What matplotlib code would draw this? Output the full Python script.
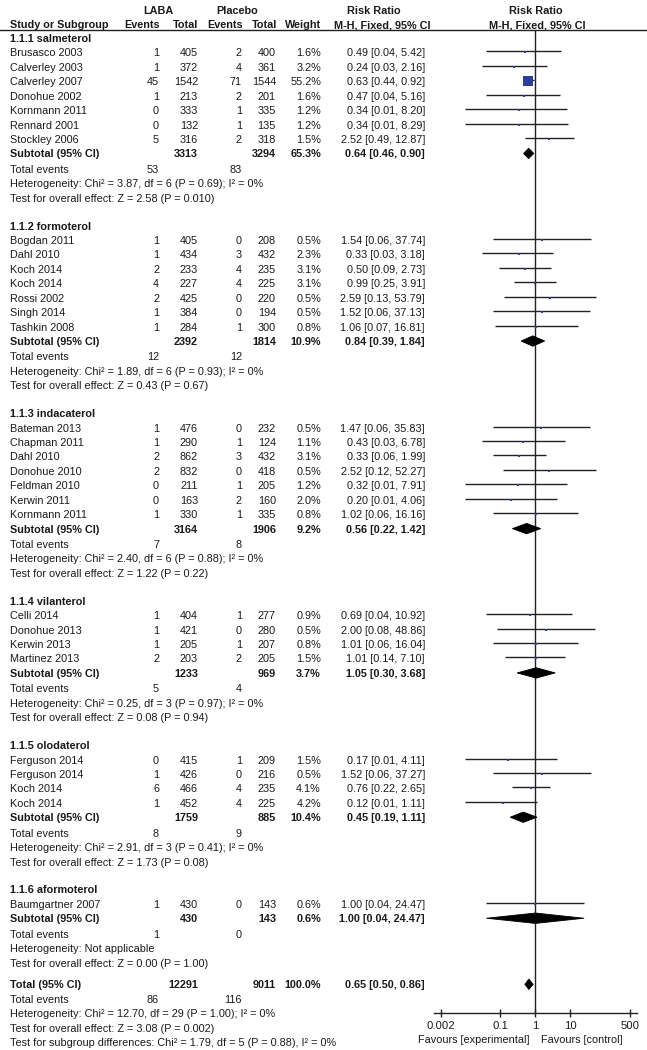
import matplotlib
matplotlib.use("Agg")
import matplotlib.pyplot as plt
from matplotlib.patches import Polygon
import numpy as np

plt.rcParams['font.family'] = ['Liberation Sans', 'DejaVu Sans']

# ---------------- data ----------------
group_names = ["1.1.1 salmeterol", "1.1.2 formoterol", "1.1.3 indacaterol",
               "1.1.4 vilanterol", "1.1.5 olodaterol", "1.1.6 aformoterol"]
group_sizes = [7, 7, 7, 4, 4, 1]

studies = ["Brusasco 2003", "Calverley 2003", "Calverley 2007", "Donohue 2002",
           "Kornmann 2011", "Rennard 2001", "Stockley 2006",
           "Bogdan 2011", "Dahl 2010", "Koch 2014", "Koch 2014", "Rossi 2002",
           "Singh 2014", "Tashkin 2008",
           "Bateman 2013", "Chapman 2011", "Dahl 2010", "Donohue 2010",
           "Feldman 2010", "Kerwin 2011", "Kornmann 2011",
           "Celli 2014", "Donohue 2013", "Kerwin 2013", "Martinez 2013",
           "Ferguson 2014", "Ferguson 2014", "Koch 2014", "Koch 2014",
           "Baumgartner 2007"]
laba_events = [1, 1, 45, 1, 0, 0, 5,
               1, 1, 2, 4, 2, 1, 1,
               1, 1, 2, 2, 0, 0, 1,
               1, 1, 1, 2,
               0, 1, 6, 1,
               1]
laba_total = [405, 372, 1542, 213, 333, 132, 316,
              405, 434, 233, 227, 425, 384, 284,
              476, 290, 862, 832, 211, 163, 330,
              404, 421, 205, 203,
              415, 426, 466, 452,
              430]
pbo_events = [2, 4, 71, 2, 1, 1, 2,
              0, 3, 4, 4, 0, 0, 1,
              0, 1, 3, 0, 1, 2, 1,
              1, 0, 1, 2,
              1, 0, 4, 4,
              0]
pbo_total = [400, 361, 1544, 201, 335, 135, 318,
             208, 432, 235, 225, 220, 194, 300,
             232, 124, 432, 418, 205, 160, 335,
             277, 280, 207, 205,
             209, 216, 235, 225,
             143]
weights = [1.6, 3.2, 55.2, 1.6, 1.2, 1.2, 1.5,
           0.5, 2.3, 3.1, 3.1, 0.5, 0.5, 0.8,
           0.5, 1.1, 3.1, 0.5, 1.2, 2.0, 0.8,
           0.9, 0.5, 0.8, 1.5,
           1.5, 0.5, 4.1, 4.2,
           0.6]
rr = [0.49, 0.24, 0.63, 0.47, 0.34, 0.34, 2.52,
      1.54, 0.33, 0.50, 0.99, 2.59, 1.52, 1.06,
      1.47, 0.43, 0.33, 2.52, 0.32, 0.20, 1.02,
      0.69, 2.00, 1.01, 1.01,
      0.17, 1.52, 0.76, 0.12,
      1.00]
rr_lo = [0.04, 0.03, 0.44, 0.04, 0.01, 0.01, 0.49,
         0.06, 0.03, 0.09, 0.25, 0.13, 0.06, 0.07,
         0.06, 0.03, 0.06, 0.12, 0.01, 0.01, 0.06,
         0.04, 0.08, 0.06, 0.14,
         0.01, 0.06, 0.22, 0.01,
         0.04]
rr_hi = [5.42, 2.16, 0.92, 5.16, 8.20, 8.29, 12.87,
         37.74, 3.18, 2.73, 3.91, 53.79, 37.13, 16.81,
         35.83, 6.78, 1.99, 52.27, 7.91, 4.06, 16.16,
         10.92, 48.86, 16.04, 7.10,
         4.11, 37.27, 2.65, 1.11,
         24.47]

sub_laba_total = [3313, 2392, 3164, 1233, 1759, 430]
sub_pbo_total = [3294, 1814, 1906, 969, 885, 143]
sub_weight = [65.3, 10.9, 9.2, 3.7, 10.4, 0.6]
sub_rr = [0.64, 0.84, 0.56, 1.05, 0.45, 1.00]
sub_lo = [0.46, 0.39, 0.22, 0.30, 0.19, 0.04]
sub_hi = [0.90, 1.84, 1.42, 3.68, 1.11, 24.47]
sub_ev_laba = [53, 12, 7, 5, 8, 1]
sub_ev_pbo = [83, 12, 8, 4, 9, 0]
sub_het = ["Heterogeneity: Chi² = 3.87, df = 6 (P = 0.69); I² = 0%",
           "Heterogeneity: Chi² = 1.89, df = 6 (P = 0.93); I² = 0%",
           "Heterogeneity: Chi² = 2.40, df = 6 (P = 0.88); I² = 0%",
           "Heterogeneity: Chi² = 0.25, df = 3 (P = 0.97); I² = 0%",
           "Heterogeneity: Chi² = 2.91, df = 3 (P = 0.41); I² = 0%",
           "Heterogeneity: Not applicable"]
sub_test = ["Test for overall effect: Z = 2.58 (P = 0.010)",
            "Test for overall effect: Z = 0.43 (P = 0.67)",
            "Test for overall effect: Z = 1.22 (P = 0.22)",
            "Test for overall effect: Z = 0.08 (P = 0.94)",
            "Test for overall effect: Z = 1.73 (P = 0.08)",
            "Test for overall effect: Z = 0.00 (P = 1.00)"]

total_laba_total = 12291
total_pbo_total = 9011
total_weight = 100.0
total_rr, total_lo, total_hi = 0.65, 0.50, 0.86
total_ev_laba, total_ev_pbo = 86, 116
total_lines = ["Heterogeneity: Chi² = 12.70, df = 29 (P = 1.00); I² = 0%",
               "Test for overall effect: Z = 3.08 (P = 0.002)",
               "Test for subgroup differences: Chi² = 1.79, df = 5 (P = 0.88), I² = 0%"]

tick_vals = [0.002, 0.1, 1, 10, 500]
tick_labels = ["0.002", "0.1", "1", "10", "500"]

# ---------------- layout ----------------
W, H = 647, 1050
fig = plt.figure(figsize=(W / 100, H / 100), dpi=100)
fig.patch.set_facecolor("white")
at = fig.add_axes([0, 0, 1, 1])
at.set_xlim(0, W)
at.set_ylim(H, 0)
at.axis("off")

FS = 7.8
TXT = "#1a1a1a"
Y0, STEP = 38.0, 14.43

X_NAME = 10
X_LE, X_LT, X_PE, X_PT, X_W, X_RR = 159, 198, 242, 276, 321, 425

ax_left, ax_right, ax_bot, ax_top = 434, 637, 1013, 30
fa = fig.add_axes([ax_left / W, 1 - ax_bot / H, (ax_right - ax_left) / W,
                   (ax_bot - ax_top) / H])
fa.set_xscale("log")
fa.set_xlim(0.00128, 790)
fa.set_ylim(ax_bot, ax_top)
fa.patch.set_alpha(0)
for s in ["top", "left", "right"]:
    fa.spines[s].set_visible(False)
fa.spines["bottom"].set_linewidth(1.0)
fa.spines["bottom"].set_color("#222222")
fa.set_yticks([])
fa.set_xticks(tick_vals)
fa.set_xticklabels(tick_labels)
fa.xaxis.set_minor_locator(matplotlib.ticker.NullLocator())
fa.tick_params(axis="x", direction="inout", length=6, width=1.0,
               labelsize=FS + 0.3, pad=2.5, colors="#222222", labelcolor=TXT)
fa.axvline(1, color="#222222", lw=1.0, zorder=1)


def txt(x, y, s, ha="left", bold=False, size=FS):
    at.text(x, y, s, ha=ha, va="center_baseline", fontsize=size,
            fontweight="bold" if bold else "normal", color=TXT)


# headers
txt(158, 10, "LABA", ha="center", bold=True)
txt(237, 10, "Placebo", ha="center", bold=True)
txt(374, 10, "Risk Ratio", ha="center", bold=True)
txt(536, 10, "Risk Ratio", ha="center", bold=True)
hy = 24
txt(X_NAME, hy, "Study or Subgroup", bold=True)
txt(X_LE + 1, hy, "Events", ha="right", bold=True)
txt(X_LT, hy, "Total", ha="right", bold=True)
txt(X_PE + 1, hy, "Events", ha="right", bold=True)
txt(X_PT + 1, hy, "Total", ha="right", bold=True)
txt(X_W, hy, "Weight", ha="right", bold=True)
txt(382, hy, "M-H, Fixed, 95% CI", ha="center", bold=True)
txt(537, hy, "M-H, Fixed, 95% CI", ha="center", bold=True)
at.plot([0, W], [30, 30], color="#222222", lw=1.0)

SQ_COL = "#2E3D9A"


def diamond(y, c, lo, hi, h=5.2):
    fa.add_patch(Polygon([(lo, y), (c, y - h), (hi, y), (c, y + h)],
                         closed=True, facecolor="black", edgecolor="black",
                         lw=0.6, zorder=4))


k = 0.0
si = 0
for g, name in enumerate(group_names):
    txt(X_NAME, Y0 + STEP * k, name, bold=True)
    k += 1
    for _ in range(group_sizes[g]):
        y = Y0 + STEP * k
        txt(X_NAME, y, studies[si])
        txt(X_LE, y, str(laba_events[si]), ha="right")
        txt(X_LT, y, str(laba_total[si]), ha="right")
        txt(X_PE, y, str(pbo_events[si]), ha="right")
        txt(X_PT, y, str(pbo_total[si]), ha="right")
        txt(X_W, y, f"{weights[si]:.1f}%", ha="right")
        txt(X_RR, y, f"{rr[si]:.2f} [{rr_lo[si]:.2f}, {rr_hi[si]:.2f}]", ha="right")
        fa.plot([rr_lo[si], rr_hi[si]], [y - 1, y - 1], color="#222222", lw=1.0,
                zorder=2, solid_capstyle="butt")
        side_px = max(2.2, 9.3 * np.sqrt(weights[si] / 55.2))
        fa.plot([rr[si]], [y], marker="s", ms=side_px * 0.72, color=SQ_COL,
                mec=SQ_COL, mew=0, zorder=3)
        si += 1
        k += 1
    y = Y0 + STEP * k
    txt(X_NAME, y, "Subtotal (95% CI)", bold=True)
    txt(X_LT, y, str(sub_laba_total[g]), ha="right", bold=True)
    txt(X_PT, y, str(sub_pbo_total[g]), ha="right", bold=True)
    txt(X_W, y, f"{sub_weight[g]:.1f}%", ha="right", bold=True)
    txt(X_RR, y, f"{sub_rr[g]:.2f} [{sub_lo[g]:.2f}, {sub_hi[g]:.2f}]", ha="right", bold=True)
    diamond(y, sub_rr[g], sub_lo[g], sub_hi[g])
    k += 1
    y = Y0 + STEP * k + 1
    txt(X_NAME, y, "Total events")
    txt(X_LE, y, str(sub_ev_laba[g]), ha="right")
    txt(X_PE, y, str(sub_ev_pbo[g]), ha="right")
    k += 1
    txt(X_NAME, Y0 + STEP * k + 1, sub_het[g])
    k += 1
    txt(X_NAME, Y0 + STEP * k + 1, sub_test[g])
    k += 2

k -= 0.42
y = Y0 + STEP * k
txt(X_NAME, y, "Total (95% CI)", bold=True)
txt(X_LT, y, str(total_laba_total), ha="right", bold=True)
txt(X_PT, y, str(total_pbo_total), ha="right", bold=True)
txt(X_W, y, f"{total_weight:.1f}%", ha="right", bold=True)
txt(X_RR, y, f"{total_rr:.2f} [{total_lo:.2f}, {total_hi:.2f}]", ha="right", bold=True)
diamond(y, total_rr, total_lo, total_hi)
k += 1
y = Y0 + STEP * k
txt(X_NAME, y, "Total events")
txt(X_LE, y, str(total_ev_laba), ha="right")
txt(X_PE, y, str(total_ev_pbo), ha="right")
for line in total_lines:
    k += 1
    txt(X_NAME, Y0 + STEP * k, line)

txt(529, 1039, "Favours [experimental]", ha="right")
txt(541, 1039, "Favours [control]", ha="left")

fig.savefig("out.png", dpi=100)
